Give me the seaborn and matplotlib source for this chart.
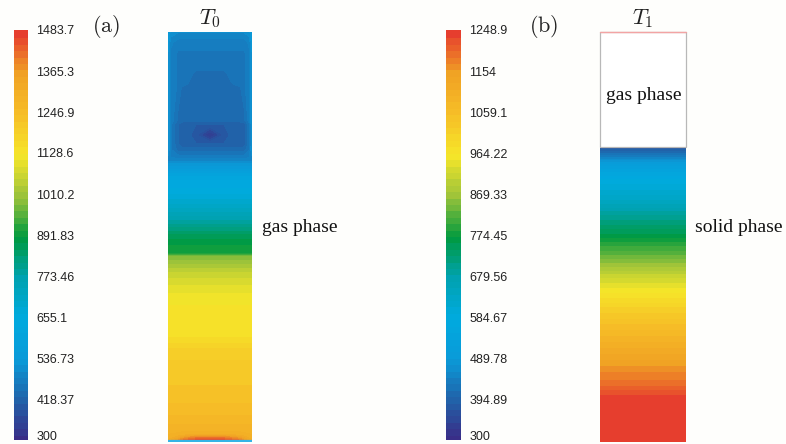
import numpy as np
import matplotlib
matplotlib.use("Agg")
import matplotlib.pyplot as plt
from matplotlib.patches import Rectangle
from matplotlib.transforms import ScaledTranslation
import seaborn as sns

sns.set_theme(style="white")
plt.rcParams["font.family"] = ["Liberation Sans", "DejaVu Sans"]
plt.rcParams["mathtext.fontset"] = "cm"

W, H = 786, 444
BG = "#fefefc"

# colour anchors of the temperature scale, evenly spaced from minimum to maximum
scale_colors = ["#3b2a85", "#2161a8", "#0a9ad8", "#00aadf", "#00a2b0", "#009a3e",
                "#9cc33a", "#f6e629", "#f6be27", "#f0a224", "#e63a2e"]
n_levels = 64

a_ticks = [300, 418.37, 536.73, 655.1, 773.46, 891.83, 1010.2, 1128.6, 1246.9, 1365.3, 1483.7]
b_ticks = [300, 394.89, 489.78, 584.67, 679.56, 774.45, 869.33, 964.22, 1059.1, 1154, 1248.9]

# ---- T0 field -------------------------------------------------------------
# positions across the column (0 = left wall, 1 = right wall)
a_x = [0, 0.03, 0.12, 0.17, 0.26, 0.33, 0.5, 0.67, 0.74, 0.85, 0.91, 0.97, 1.0]
# upper zone with the bottle-shaped cold core; depth from the top of the column
a_top_depth = [0, 10, 22, 36, 40, 52, 55, 85, 88, 92, 103, 112, 118]
a_top_temp = [
    [540, 515, 505, 505, 505, 505, 505, 505, 505, 505, 505, 515, 540],
    [530, 490, 475, 475, 475, 475, 475, 475, 475, 475, 475, 490, 530],
    [520, 480, 462, 462, 462, 462, 462, 462, 462, 462, 462, 480, 520],
    [520, 480, 462, 462, 462, 462, 462, 462, 462, 462, 462, 480, 520],
    [520, 480, 462, 462, 462, 440, 440, 440, 462, 462, 462, 480, 520],
    [520, 480, 462, 462, 440, 440, 440, 440, 440, 462, 462, 480, 520],
    [520, 480, 462, 442, 442, 442, 442, 442, 442, 442, 462, 480, 520],
    [520, 480, 442, 442, 442, 442, 442, 442, 442, 442, 442, 480, 520],
    [520, 480, 442, 442, 442, 442, 442, 442, 442, 442, 442, 480, 520],
    [520, 470, 430, 412, 412, 412, 412, 412, 412, 412, 418, 460, 520],
    [520, 470, 430, 412, 412, 395, 325, 395, 412, 412, 418, 460, 520],
    [520, 470, 430, 412, 412, 412, 412, 412, 412, 412, 418, 460, 520],
    [520, 470, 440, 440, 440, 440, 440, 440, 440, 440, 440, 465, 520],
]
# middle zone, uniform across the column
a_mid_depth = [128, 145, 160, 175, 190, 203, 212, 221, 224, 240, 258, 275, 305, 320, 360, 380, 398]
a_mid_temp = [490, 625, 660, 720, 790, 860, 890, 905, 985, 1060, 1110, 1135, 1150, 1200, 1230, 1255, 1290]
# hot layer at the bottom wall
a_base_depth = [403, 406, 409]
a_base_temp = [
    [1300, 1300, 1305, 1310, 1315, 1320, 1320, 1320, 1315, 1310, 1305, 1300, 1300],
    [1300, 1310, 1330, 1360, 1390, 1405, 1410, 1405, 1390, 1360, 1330, 1310, 1300],
    [1320, 1340, 1380, 1420, 1445, 1460, 1465, 1460, 1445, 1420, 1380, 1340, 1320],
]

# ---- T1 field (solid below the gas layer) ----------------------------------
b_x = [0, 1.0]
b_gas_depth = 115
b_depth = [115, 123, 133, 148, 168, 183, 196, 206, 216, 233, 248, 260, 278, 298, 318, 338, 353, 363, 409]
b_temp = [376, 430, 520, 585, 640, 700, 740, 775, 810, 870, 930, 964, 1020, 1070, 1120, 1170, 1200, 1235, 1245]

cmap = sns.blend_palette(scale_colors, n_colors=256, as_cmap=True)


def fx(x):
    return x / W


def fy(y):
    return 1 - y / H


fig = plt.figure(figsize=(W / 100, H / 100), dpi=100, facecolor=BG)


def draw_field(ax, xs, depth, temp, vmin, vmax, depth_max):
    levels = np.linspace(vmin, vmax, n_levels + 1)
    X, Y = np.meshgrid(xs, depth)
    cf = ax.contourf(X, Y, np.asarray(temp, float), levels=levels, cmap=cmap,
                     vmin=vmin, vmax=vmax)
    cf.set_edgecolor("face")
    cf.set_linewidth(0.4)
    ax.set_xlim(0, 1)
    ax.set_ylim(depth_max, 0)
    ax.set_axis_off()
    return cf


def draw_scale(cax, cf, ticks):
    cb = fig.colorbar(cf, cax=cax, ticks=ticks)
    cb.ax.set_yticklabels([f"{t:.5g}" for t in ticks])
    cb.ax.tick_params(length=0, pad=6, labelsize=9, labelcolor="#222222")
    cb.outline.set_visible(False)
    if cb.solids is not None:
        cb.solids.set_edgecolor("face")
    # lift the lowest label so it stays inside the figure
    lowest = cb.ax.get_yticklabels()[0]
    lowest.set_transform(lowest.get_transform()
                         + ScaledTranslation(0, 3 / 72, fig.dpi_scale_trans))
    return cb


# panel (a)
ax_a = fig.add_axes([fx(168), 1 - 442 / H, fx(84), 410 / H])
ax_a.set_facecolor(BG)
a_depth = list(a_top_depth) + list(a_mid_depth) + list(a_base_depth)
a_field = (list(a_top_temp)
           + [[t] * len(a_x) for t in a_mid_temp]
           + list(a_base_temp))
cf_a = draw_field(ax_a, a_x, a_depth, a_field, a_ticks[0], a_ticks[-1], 410)
ax_a.axhline(409.3, color="#35b4e6", lw=1.6)

cax_a = fig.add_axes([fx(14), 1 - 440 / H, fx(14), 410 / H])
draw_scale(cax_a, cf_a, a_ticks)

# panel (b)
ax_b = fig.add_axes([fx(600), 1 - 442 / H, fx(86), 410 / H])
ax_b.set_facecolor(BG)
b_field = [[t] * len(b_x) for t in b_temp]
cf_b = draw_field(ax_b, b_x, b_depth, b_field, b_ticks[0], b_ticks[-1], 410)
ax_b.add_patch(Rectangle((0, 0), 1, b_gas_depth, facecolor="white",
                         edgecolor="#b8b8b8", lw=0.9, clip_on=False, zorder=3))
ax_b.plot([0, 1], [0, 0], color="#f3a4a4", lw=1.0, clip_on=False, zorder=4)

cax_b = fig.add_axes([fx(446), 1 - 440 / H, fx(15), 410 / H])
draw_scale(cax_b, cf_b, b_ticks)

# labels
serif = ["Liberation Serif", "DejaVu Serif"]
fig.text(fx(106), fy(27), r"$\mathrm{(a)}$", fontsize=16, ha="center", va="center", color="#222222")
fig.text(fx(210), fy(19), r"$T_0$", fontsize=16, ha="center", va="center", color="#222222")
fig.text(fx(262), fy(227), "gas phase", family=serif, fontsize=14, ha="left", va="center", color="#111111")
fig.text(fx(544), fy(27), r"$\mathrm{(b)}$", fontsize=16, ha="center", va="center", color="#222222")
fig.text(fx(643), fy(19), r"$T_1$", fontsize=16, ha="center", va="center", color="#222222")
fig.text(fx(644), fy(95), "gas phase", family=serif, fontsize=14, ha="center", va="center", color="#111111")
fig.text(fx(695), fy(227), "solid phase", family=serif, fontsize=14, ha="left", va="center", color="#111111")

fig.savefig("out.png", dpi=100, facecolor=BG)
